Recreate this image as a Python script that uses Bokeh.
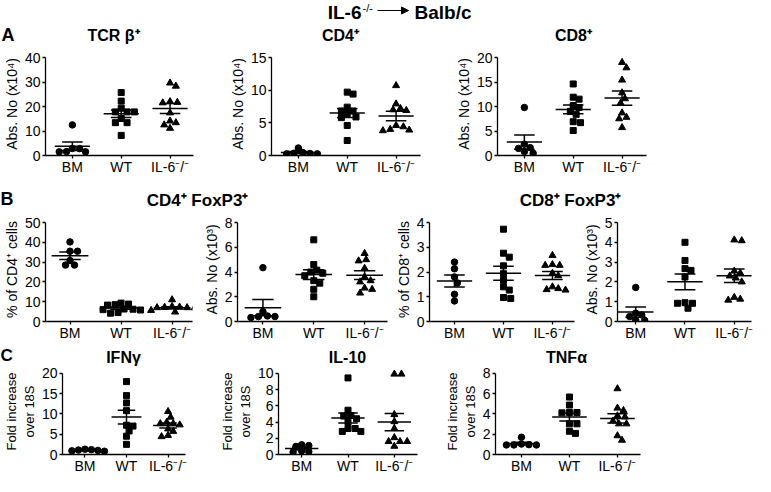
import numpy as np
from bokeh.plotting import figure
from bokeh.layouts import column, row
from bokeh.models import Range1d, FixedTicker, Arrow, NormalHead
from bokeh.embed import file_html
from bokeh.resources import INLINE
from bokeh.core.properties import value

FONT = "Liberation Sans"

# ---------------- data ----------------
groups = ["BM", "WT", "IL-6⁻/⁻"]

# A: TCRb+, CD4+, CD8+ absolute numbers (x10^4)
tcr_bm = [12.5, 2.9, 2.8, 1.6, 1.5, 1.5]
tcr_wt = [25.7, 22.2, 19.3, 17.8, 17.8, 17.8, 15.1, 13.4, 13.4, 8.2]
tcr_il6 = [29.6, 28.3, 22.0, 21.7, 21.5, 17.4, 14.1, 13.4, 12.5, 11.1]

cd4_bm = [1.15, 0.45, 0.35, 0.3, 0.25, 0.25]
cd4_wt = [9.7, 9.4, 7.4, 6.8, 6.8, 6.4, 5.9, 5.8, 4.6, 2.3]
cd4_il6 = [10.7, 7.9, 7.2, 7.0, 6.9, 4.6, 4.4, 4.0, 3.9, 3.8]

cd8_bm = [9.8, 2.3, 1.6, 1.45, 0.8, 0.45]
cd8_wt = [14.6, 11.9, 11.5, 10.2, 9.8, 9.0, 8.4, 6.9, 6.7, 5.1]
cd8_il6 = [19.0, 17.9, 15.4, 12.8, 11.6, 10.7, 8.7, 7.8, 7.5, 5.7]

# B: FoxP3+ within CD4+ / CD8+
treg4_pct_bm = [40.2, 35.5, 35.5, 30.8, 28.5, 28.5]
treg4_pct_wt = [9.3, 8.8, 8.5, 8.3, 6.3, 6.2, 6.0, 5.8, 4.5, 4.2]
treg4_pct_il6 = [11.0, 7.6, 7.3, 7.2, 7.0, 7.0, 6.9, 5.6, 4.8, 4.6]

treg4_abs_bm = [4.35, 0.8, 0.45, 0.4, 0.4, 0.32]
treg4_abs_wt = [6.6, 4.6, 4.15, 4.0, 3.9, 3.7, 3.3, 3.1, 2.6, 2.0]
treg4_abs_il6 = [5.5, 5.0, 4.9, 4.3, 3.6, 3.3, 3.2, 2.7, 2.6, 2.3]

treg8_pct_bm = [2.4, 2.13, 1.8, 1.56, 1.1, 0.83]
treg8_pct_wt = [3.73, 2.76, 2.6, 2.25, 1.93, 1.67, 1.4, 1.27, 0.97, 0.93]
treg8_pct_il6 = [2.67, 2.3, 2.27, 2.27, 1.95, 1.85, 1.4, 1.33, 1.29, 1.27]

treg8_abs_bm = [1.72, 0.42, 0.33, 0.25, 0.08, 0.05]
treg8_abs_wt = [4.0, 3.08, 2.67, 2.58, 2.25, 0.95, 0.92, 0.92, 0.67]
treg8_abs_il6 = [4.12, 4.08, 2.55, 2.45, 2.3, 2.2, 2.0, 1.22, 1.13, 1.08]

# C: cytokine mRNA, fold increase over 18S
ifn_bm = [1.3, 1.2, 1.1, 1.0, 0.9, 0.8]
ifn_wt = [17.95, 14.5, 12.7, 10.8, 7.2, 7.0, 5.8, 4.5, 2.5]
ifn_il6 = [10.6, 9.2, 7.95, 7.6, 7.6, 7.3, 6.3, 5.7, 4.7, 4.4]

il10_bm = [1.2, 1.1, 1.0, 0.45, 0.35, 0.3]
il10_wt = [9.43, 5.45, 4.8, 4.73, 4.4, 3.98, 3.2, 3.2, 2.84, 2.84]
il10_il6 = [9.9, 9.9, 4.92, 4.05, 3.2, 2.08, 1.6, 1.6, 1.6, 1.02]

tnf_bm = [1.7, 1.03, 0.97, 0.94, 0.94, 0.94]
tnf_wt = [5.66, 4.87, 4.13, 4.13, 4.1, 3.02, 3.02, 2.29, 2.08]
tnf_il6 = [6.48, 4.57, 4.34, 3.81, 3.7, 3.3, 3.02, 3.02, 1.85, 1.41]

MARKERS = ["circle", "square", "triangle"]
MSIZE = [6.5, 6, 7]
PAD_PX = 5


def beeswarm(vals, ppu_y, ppu_x, diam=6.2, step=1.5):
    vals = np.asarray(vals, dtype=float)
    order = np.argsort(-vals, kind="stable")
    cands = [0.0]
    for k in range(1, 40):
        cands += [k * step, -k * step]
    placed = []
    offs = np.zeros(len(vals))
    for i in order:
        yp = vals[i] * ppu_y
        for c in cands:
            if all((c - px) ** 2 + (yp - py) ** 2 >= diam ** 2 for px, py in placed):
                offs[i] = c
                placed.append((c, yp))
                break
    return offs / ppu_x


def style_axis(ax, standoff, size="14px"):
    ax.axis_line_color = "black"
    ax.axis_line_width = 1.3
    ax.major_tick_line_color = "black"
    ax.major_tick_line_width = 1.3
    ax.major_tick_out = 3
    ax.major_tick_in = 0
    ax.minor_tick_line_color = None
    ax.major_label_text_font = FONT
    ax.major_label_text_font_size = size
    ax.major_label_text_color = "black"
    ax.major_label_standoff = standoff
    ax.axis_label_text_font = FONT
    ax.axis_label_text_font_style = "normal"
    ax.axis_label_text_color = "black"
    ax.axis_label_standoff = 2


def panel(data, ymax, ystep, ylabel, width, height, left, right, top, bottom, xr,
          ylabel_size="14px"):
    fw = width - left - right
    fh = height - top - bottom
    ppu_x = fw / (xr[1] - xr[0])
    ppu_y = fh / ymax
    yend = ymax * (fh + PAD_PX) / fh
    p = figure(width=width, height=height, x_range=Range1d(*xr), y_range=Range1d(0, yend),
               toolbar_location=None, output_backend="svg",
               min_border_left=left, min_border_right=right,
               min_border_top=top - PAD_PX, min_border_bottom=bottom)
    p.grid.visible = False
    p.outline_line_color = None
    p.background_fill_color = "white"
    p.border_fill_color = "white"
    for gi, vals in enumerate(data):
        xc = gi + 1
        offs = beeswarm(vals, ppu_y, ppu_x)
        p.scatter(x=xc + offs, y=vals, marker=MARKERS[gi], size=MSIZE[gi],
                  fill_color="black", line_color="black")
        m = float(np.mean(vals))
        sem = float(np.std(vals, ddof=1) / np.sqrt(len(vals)))
        p.segment(x0=[xc - 0.36, xc - 0.21, xc - 0.21, xc],
                  y0=[m, m + sem, m - sem, m - sem],
                  x1=[xc + 0.36, xc + 0.21, xc + 0.21, xc],
                  y1=[m, m + sem, m - sem, m + sem],
                  line_color="black", line_width=1.5)
    xa = p.xaxis[0]
    ya = p.yaxis[0]
    style_axis(xa, 0)
    style_axis(ya, 2)
    ya.axis_label_text_font_size = ylabel_size
    xa.ticker = FixedTicker(ticks=[1, 2, 3])
    xa.major_label_overrides = {1: groups[0], 2: groups[1], 3: groups[2]}
    ya.ticker = FixedTicker(ticks=list(range(0, ymax + 1, ystep)))
    ya.bounds = (0, ymax)
    ya.axis_label = ylabel
    return p


def band(h):
    p = figure(width=755, height=h, x_range=Range1d(0, 755), y_range=Range1d(h, 0),
               toolbar_location=None, output_backend="svg",
               x_axis_location=None, y_axis_location=None, min_border=0)
    p.grid.visible = False
    p.outline_line_color = None
    return p


def txt(p, x, y, s, size, bold=True, align="center", baseline="middle"):
    p.text(x=[x], y=[y], text=[s], text_font=value(FONT),
           text_font_style="bold" if bold else "normal",
           text_font_size=size, text_align=align, text_baseline=baseline,
           text_color="black")


# ---------------- header band A ----------------
bA = band(46)
txt(bA, 361, 1, "IL-6", "19px", align="right", baseline="top")
txt(bA, 362, 1, "-/-", "11px", bold=False, align="left", baseline="top")
bA.add_layout(Arrow(end=NormalHead(size=7, fill_color="black", line_color="black"),
                    x_start=377, y_start=10, x_end=408, y_end=10,
                    line_color="black", line_width=1))
txt(bA, 414, 1, "Balb/c", "19px", align="left", baseline="top")
txt(bA, 1, 34, "A", "18px", align="left")
txt(bA, 113, 35, "TCR β⁺", "16px")
txt(bA, 340, 35, "CD4⁺", "16px")
txt(bA, 573, 35, "CD8⁺", "16px")

absno4 = "Abs. No (x10⁴)"
absno3 = "Abs. No (x10³)"
fold = "Fold increase\nover 18S"

a1 = panel([tcr_bm, tcr_wt, tcr_il6], 40, 10, absno4, 226, 141, 41, 33, 11, 32, (0.45, 3.48))
a2 = panel([cd4_bm, cd4_wt, cd4_il6], 15, 5, absno4, 226, 141, 41, 32, 11, 32, (0.45, 3.5))
a3 = panel([cd8_bm, cd8_wt, cd8_il6], 20, 5, absno4, 303, 141, 41, 109, 11, 32, (0.45, 3.5))

# ---------------- header band B ----------------
bB = band(27)
txt(bB, 0, 11, "B", "18px", align="left")
txt(bB, 197, 13, "CD4⁺ FoxP3⁺", "17px")
txt(bB, 570, 13, "CD8⁺ FoxP3⁺", "17px")

b1 = panel([treg4_pct_bm, treg4_pct_wt, treg4_pct_il6], 50, 10, "% of CD4⁺ cells",
           197, 131, 45, 5, 8, 24, (0.52, 3.4))
b2 = panel([treg4_abs_bm, treg4_abs_wt, treg4_abs_il6], 8, 2, absno3,
           195, 131, 40, 5, 8, 24, (0.5, 3.45))
b3 = panel([treg8_pct_bm, treg8_pct_wt, treg8_pct_il6], 4, 1, "% of CD8⁺ cells",
           188, 131, 32, 6, 8, 24, (0.49, 3.45))
b4 = panel([treg8_abs_bm, treg8_abs_wt, treg8_abs_il6], 5, 1, absno3,
           175, 131, 37, 4, 8, 24, (0.63, 3.35))

# ---------------- header band C ----------------
bC = band(21)
txt(bC, 0, 10, "C", "17px", align="left")
txt(bC, 123, 12, "IFNγ", "16px")
txt(bC, 347, 12, "IL-10", "16px")
txt(bC, 566, 12, "TNFα", "16px")

c1 = panel([ifn_bm, ifn_wt, ifn_il6], 20, 5, fold, 216, 110, 43, 31, 7, 18, (0.46, 3.42), "13px")
c2 = panel([il10_bm, il10_wt, il10_il6], 10, 2, fold, 224, 110, 55, 23, 7, 18, (0.5, 3.5), "13px")
c3 = panel([tnf_bm, tnf_wt, tnf_il6], 8, 2, fold, 315, 110, 55, 115, 7, 18, (0.46, 3.48), "13px")

layout = column(bA, row(a1, a2, a3), bB, row(b1, b2, b3, b4), bC, row(c1, c2, c3))

open("out.html", "w").write(file_html(layout, INLINE))
